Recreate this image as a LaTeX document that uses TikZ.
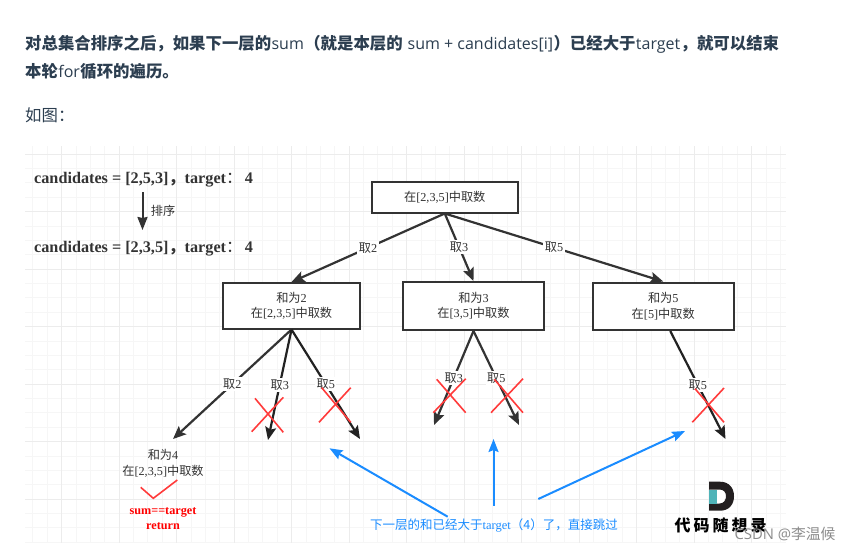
\documentclass[tikz,border=0pt]{standalone}
\usepackage{fontspec}
\usetikzlibrary{arrows.meta}
\setmainfont{Liberation Serif}
\newfontfamily\cjk{Noto Sans CJK SC}
\newfontfamily\opensans{Open Sans}
\definecolor{gridminor}{HTML}{F6F6F6}
\definecolor{gridmajor}{HTML}{ECECEC}
\definecolor{headtext}{HTML}{2C3E50}
\definecolor{darkline}{HTML}{333333}
\definecolor{blackline}{HTML}{222222}
\definecolor{xred}{HTML}{FF3B3B}
\definecolor{tipblue}{HTML}{1A8CFF}
\definecolor{logoteal}{HTML}{4FB3B8}
\definecolor{logodark}{HTML}{231F20}
\newcommand{\cn}[1]{{\cjk #1}}
\newcommand{\lat}[1]{{\opensans\fontsize{16}{16}\selectfont #1}}
\tikzset{
  treebox/.style={draw=darkline,line width=2pt,fill=white,inner sep=0pt,align=center,text=darkline,font=\fontsize{12.2}{15.5}\selectfont},
  edge/.style={draw=darkline,line width=2.2pt,-{Stealth[length=13pt,width=11pt,inset=2.5pt]}},
  edgeb/.style={edge,draw=blackline},
  lab/.style={fill=white,inner sep=1.5pt,text=darkline,font=\fontsize{12.2}{13}\selectfont},
  cross/.style={draw=xred,line width=1.6pt},
  tip/.style={draw=tipblue,line width=2pt,-{Stealth[length=13pt,width=10pt,inset=2pt]}},
  plaintext/.style={inner sep=0pt,text=darkline,align=center,font=\fontsize{12.2}{16.5}\selectfont},
  headline/.style={inner sep=0pt,anchor=base west,text=headtext,font=\fontsize{16.4}{16.4}\selectfont},
  bigtext/.style={inner sep=0pt,anchor=base west,text=darkline,font=\fontsize{16.2}{16.2}\selectfont\bfseries}
}
\begin{document}
\begin{tikzpicture}[x=1pt,y=-1pt]
\useasboundingbox[fill=white] (0,0) rectangle (850,551);
% grid
\begin{scope}
\clip (25,146) rectangle (786,543);
\foreach \i in {0,...,56} {\draw[gridminor,line width=.7pt] ({4+14.375*\i},146) -- ({4+14.375*\i},543);}
\foreach \i in {0,...,29} {\draw[gridminor,line width=.7pt] (25,{139.6+14.375*\i}) -- (786,{139.6+14.375*\i});}
\foreach \i in {0,...,14} {\draw[gridmajor,line width=1pt] ({4+57.5*\i},146) -- ({4+57.5*\i},543);}
\foreach \i in {0,...,7} {\draw[gridmajor,line width=1pt] (25,{154+57.5*\i}) -- (786,{154+57.5*\i});}
\end{scope}
% heading
\node[headline] (h1a) at (25,49) {\cjk\bfseries 对总集合排序之后，如果下一层的};
\node[headline] (h1b) at (h1a.base east) {\lat{sum}};
\node[headline] (h1c) at (h1b.base east) {\cjk\bfseries （就是本层的};
\node[headline] (h1d) at ([xshift=4.5pt]h1c.base east) {\lat{sum + candidates[i]}};
\node[headline] (h1e) at (h1d.base east) {\cjk\bfseries ）已经大于};
\node[headline] (h1f) at (h1e.base east) {\lat{target}};
\node[headline] (h1g) at (h1f.base east) {\cjk\bfseries ，就可以结束};
\node[headline] (h2a) at (25,77) {\cjk\bfseries 本轮};
\node[headline] (h2b) at (h2a.base east) {\lat{for}};
\node[headline] (h2c) at (h2b.base east) {\cjk\bfseries 循环的遍历。};
\node[headline] (h3) at (25,121) {\cjk 如图：};
% left texts
\node[bigtext] (c1) at (34,183) {candidates = [2,5,3]\cn{，}target\cn{\mdseries ：}\hspace{2.5pt}4};
\node[bigtext] (c2) at (34,252) {candidates = [2,3,5]\cn{，}target\cn{\mdseries ：}\hspace{2.5pt}4};
\coordinate (sa) at (142.5,192);
\coordinate (sb) at (142.5,230);
\draw[draw=darkline,line width=2pt,-{Stealth[length=13pt,width=10pt,inset=1pt]}] (sa) -- (sb);
\node[plaintext] (sortlab) at (163,211) {\cjk 排序};
% boxes
\node[treebox,minimum width=146.5pt,minimum height=31pt] (root) at (444.75,197) {\cn{在}[2,3,5]\cn{中取数}};
\node[treebox,minimum width=137pt,minimum height=45.5pt] (b2) at (291.5,305.75) {\cn{和为}2\\\cn{在}[2,3,5]\cn{中取数}};
\node[treebox,minimum width=141pt,minimum height=48pt] (b3) at (473.5,306) {\cn{和为}3\\\cn{在}[3,5]\cn{中取数}};
\node[treebox,minimum width=141.5pt,minimum height=47.5pt] (b5) at (663.25,306.25) {\cn{和为}5\\\cn{在}[5]\cn{中取数}};
\node[plaintext] (b4) at (163,463.5) {\cn{和为}4\\\cn{在}[2,3,5]\cn{中取数}};
% free ends
\coordinate (e22) at (173,439);
\coordinate (e23) at (268,440);
\coordinate (e25) at (360,439);
\coordinate (e33) at (434,425);
\coordinate (e35) at (519,425);
\coordinate (e55) at (725.5,439);
% edges
\draw[edge] (root.south) -- node[lab]{\cn{取}2} (b2.north);
\draw[edge] (root.south) -- node[lab]{\cn{取}3} (b3.north);
\draw[edge] (root.south) -- node[lab]{\cn{取}5} (b5.north);
\draw[edge] (b2.south) -- node[lab]{\cn{取}2} (e22);
\draw[edgeb] (b2.south) -- node[lab]{\cn{取}3} (e23);
\draw[edgeb] (b2.south) -- node[lab]{\cn{取}5} (e25);
\draw[edge] (b3.south) -- node[lab]{\cn{取}3} (e33);
\draw[edge] (b3.south) -- node[lab]{\cn{取}5} (e35);
\draw[edgeb] ([xshift=7pt]b5.south) -- node[lab]{\cn{取}5} (e55);
% crosses
\draw[cross] (251.7,431.7) -- (283.3,397.3) (255,398.3) -- (283.3,432.3);
\draw[cross] (319,422.3) -- (350.7,387.7) (321.7,387.7) -- (350.7,422.3);
\draw[cross] (433.3,412.7) -- (465.7,378.7) (436.7,379.3) -- (465.7,412.7);
\draw[cross] (491,412.7) -- (523,378.7) (494.3,379.3) -- (523,412.7);
\draw[cross] (692.3,422.3) -- (724,388) (695,388.7) -- (724,422.3);
% check
\draw[cross] (140.7,487.3) -- (153.3,498.3) -- (177.3,480);
\node[plaintext,text=red,font=\fontsize{12.2}{15}\selectfont\bfseries] (ret) at (163,518.5) {sum==target\\return};
% blue
\node[inner sep=0pt,text=tipblue,font=\fontsize{12.5}{14}\selectfont] (note) at (494,525) {\cn{下一层的和已经大于}target\cn{（4）了，直接跳过}};
\coordinate (t1a) at (447.7,516.7);
\coordinate (t1b) at (329.5,448.3);
\coordinate (t2a) at (493.5,505.7);
\coordinate (t2b) at (493.5,439);
\coordinate (t3a) at (538.3,499);
\coordinate (t3b) at (685,431);
\draw[tip] (t1a) -- (t1b);
\draw[tip] (t2a) -- (t2b);
\draw[tip] (t3a) -- (t3b);
% logo
\fill[white] (709,489.5) rectangle (724,503.5);
\fill[logodark,even odd rule] (709,481.7) -- (720,481.7) .. controls (729,481.7) and (734,488) .. (734,496.2) .. controls (734,504.5) and (729,510.7) .. (720,510.7) -- (709,510.7) -- cycle
 (709,489.5) -- (709,503.5) -- (719.5,503.5) .. controls (724,503.5) and (726,500) .. (726,496.2) .. controls (726,492.5) and (724,489.5) .. (719.5,489.5) -- cycle;
\fill[logoteal] (709,489.5) rectangle (717,503.5);
\node[inner sep=0pt,text=black,font=\fontsize{16}{16}\selectfont] (logo) at (720.5,525) {\cjk\bfseries 代\hspace{3pt}码\hspace{3pt}随\hspace{3pt}想\hspace{3pt}录};
\node[inner sep=0pt,text=black!45,font=\fontsize{14.8}{15}\selectfont] (wm) at (785,534) {\opensans CSDN @\cjk 李温候};
\end{tikzpicture}
\end{document}
